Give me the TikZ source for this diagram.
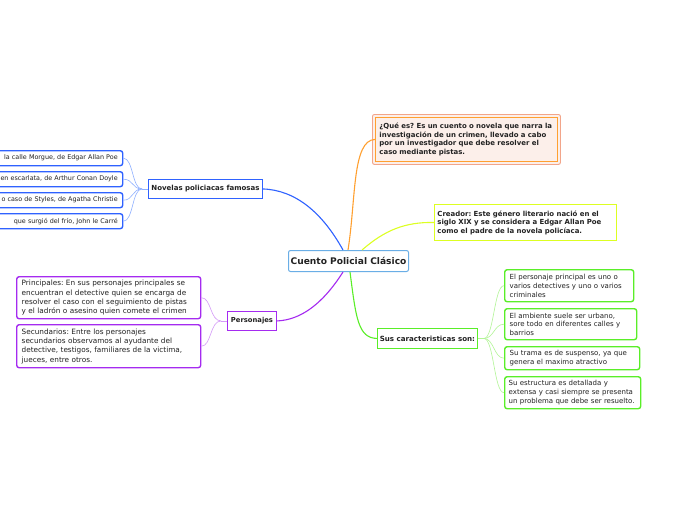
\documentclass[tikz,border=0pt]{standalone}
\usepackage{fontspec}
\setmainfont{DejaVu Sans}
\usetikzlibrary{calc}
\frenchspacing
\definecolor{cblue}{HTML}{2F62FF}
\definecolor{cbluel}{HTML}{8FB0FF}
\definecolor{ccen}{HTML}{6AAEE6}
\definecolor{cpur}{HTML}{A52BF0}
\definecolor{cpurl}{HTML}{D49AF7}
\definecolor{corg}{HTML}{FFA030}
\definecolor{corgo}{HTML}{F2A58A}
\definecolor{cpeach}{HTML}{FCEFEA}
\definecolor{cyel}{HTML}{DDFF22}
\definecolor{cgrn}{HTML}{5AEE28}
\definecolor{cgrnl}{HTML}{B2F596}
\definecolor{ctxt}{HTML}{222222}
\tikzset{
  every node/.style={font=\fontsize{6.4}{8.8}\selectfont, inner sep=0pt, text=ctxt},
  nw/.style={anchor=north west},
  leafbox/.style={draw, nw, line width=1.4pt, rounded corners=2.5pt, fill=white, align=left, inner xsep=5pt},
  topbox/.style={draw, nw, line width=0.9pt, fill=white, align=center, font=\fontsize{7}{8.6}\selectfont\bfseries},
  thin/.style={line width=0.6pt},
  main/.style={line width=1.1pt}
}
\begin{document}
\begin{tikzpicture}[x=1pt,y=-1pt]
\useasboundingbox[fill=white] (0,0) rectangle (696,520);
% central
\node[draw=ccen, nw, line width=1pt, rounded corners=2pt, fill=white, minimum width=120pt, minimum height=21pt, font=\fontsize{9.1}{10}\selectfont\bfseries] (c) at (288,250) {Cuento Policial Clásico};
% Novelas
\node[topbox, draw=cblue, minimum width=114pt, minimum height=19pt] (nov) at (148,179) {Novelas policiacas famosas};
\node[leafbox, draw=cblue, minimum width=132pt, minimum height=15pt, text width=122pt, align=right] (b1) at (-10,150) {la calle Morgue, de Edgar Allan Poe};
\node[leafbox, draw=cblue, minimum width=132pt, minimum height=15pt, text width=122pt, align=right] (b2) at (-10,171) {en escarlata, de Arthur Conan Doyle};
\node[leafbox, draw=cblue, minimum width=132pt, minimum height=15pt, text width=122pt, align=right] (b3) at (-10,192) {o caso de Styles, de Agatha Christie};
\node[leafbox, draw=cblue, minimum width=132pt, minimum height=15pt, text width=122pt, align=right] (b4) at (-10,213) {que surgió del frío, John le Carré};
% Personajes
\node[topbox, draw=cpur, minimum width=49pt, minimum height=19pt, font=\fontsize{6.8}{8.6}\selectfont\bfseries] (per) at (227,311) {Personajes};
\node[leafbox, draw=cpur, minimum height=42pt, text width=174pt, font=\fontsize{7.3}{9.3}\selectfont] (p1) at (16,276) {Principales: En sus personajes principales se\\encuentran el detective quien se encarga de\\resolver el caso con el seguimiento de pistas\\y el ladrón o asesino quien comete el crimen};
\node[leafbox, draw=cpur, minimum height=43pt, text width=174pt, font=\fontsize{7.3}{9.3}\selectfont] (p2) at (16,324) {Secundarios: Entre los personajes\\secundarios observamos al ayudante del\\detective, testigos, familiares de la victima,\\jueces, entre otros.};
% Que es
\node[draw=corgo, nw, line width=0.9pt, rounded corners=2pt, fill=cpeach, minimum width=188pt, minimum height=50pt] (qo) at (372,114) {};
\node[draw=corg, nw, line width=0.9pt, fill=cpeach, minimum width=182pt, minimum height=44pt, text width=174pt, align=left, inner xsep=3pt, font=\fontsize{6.95}{8.5}\selectfont\bfseries] (q) at (375,117) {¿Qué es? Es un cuento o novela que narra la\\investigación de un crimen, llevado a cabo\\por un investigador que debe resolver el\\caso mediante pistas.};
% Creador
\node[draw=cyel, nw, line width=0.9pt, fill=white, minimum width=182pt, minimum height=36pt, text width=176pt, align=left, inner xsep=3pt, font=\fontsize{6.95}{8.5}\selectfont\bfseries] (cr) at (434,204) {Creador: Este género literario nació en el\\siglo XIX y se considera a Edgar Allan Poe\\como el padre de la novela policíaca.};
% Caracteristicas
\node[topbox, draw=cgrn, minimum width=100pt, minimum height=20pt, font=\fontsize{7.1}{8.6}\selectfont\bfseries] (sus) at (377,328) {Sus caracteristicas son:};
\node[leafbox, draw=cgrn, minimum width=129pt, minimum height=32pt, text width=119pt, font=\fontsize{7}{8.7}\selectfont] (g1) at (504,269) {El personaje principal es uno o\\varios detectives y uno o varios\\criminales};
\node[leafbox, draw=cgrn, minimum width=132pt, minimum height=31pt, text width=122pt, font=\fontsize{7}{8.7}\selectfont] (g2) at (504,308) {El ambiente suele ser urbano,\\sore todo en diferentes calles y\\barrios};
\node[leafbox, draw=cgrn, minimum width=135pt, minimum height=23pt, text width=125pt, font=\fontsize{7}{8.7}\selectfont] (g3) at (504,346) {Su trama es de suspenso, ya que\\genera el maximo atractivo};
\node[leafbox, draw=cgrn, minimum width=136pt, minimum height=32pt, text width=128pt, inner xsep=4pt, font=\fontsize{7}{8.7}\selectfont] (g4) at (504,376) {Su estructura es detallada y\\extensa y casi siempre se presenta\\un problema que debe ser resuelto.};
% main connectors
\draw[main, cblue] ([xshift=55pt]c.north west) .. controls (322,212) and (295,190) .. (nov.east);
\draw[main, corg] ([xshift=60pt]c.north west) .. controls (356,200) and (352,140) .. (q.west);
\draw[main, cyel] ([xshift=74pt]c.north west) .. controls (385,230) and (405,222) .. (cr.west);
\draw[main, cpur] ([xshift=55pt]c.south west) .. controls (322,305) and (300,320) .. (per.east);
\draw[main, cgrn] ([xshift=62pt]c.south west) .. controls (356,318) and (358,338) .. (sus.west);
% leaf connectors
\coordinate (jn) at ($(nov.west)+(-6,0)$);
\draw[thin, cbluel] (nov.west) -- (jn);
\foreach \b in {b1,b2,b3,b4}{
  \draw[thin, cbluel] (jn) .. controls ($(jn)+(-10,0)$) and ($(\b.east)+(10,0)$) .. (\b.east);
}
\coordinate (jp) at ($(per.west)+(-6,0)$);
\draw[thin, cpurl] (per.west) -- (jp);
\foreach \b in {p1,p2}{
  \draw[thin, cpurl] (jp) .. controls ($(jp)+(-11,0)$) and ($(\b.east)+(10,0)$) .. (\b.east);
}
\coordinate (js) at ($(sus.east)+(6,0)$);
\draw[thin, cgrnl] (sus.east) -- (js);
\foreach \b in {g1,g2,g3,g4}{
  \draw[thin, cgrnl] (js) .. controls ($(js)+(10,0)$) and ($(\b.west)+(-10,0)$) .. (\b.west);
}
\end{tikzpicture}
\end{document}
